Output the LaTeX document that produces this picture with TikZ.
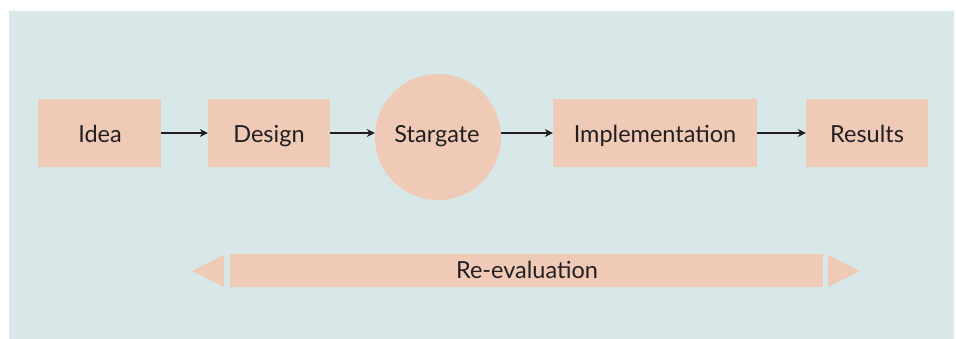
\documentclass[tikz,border=0pt]{standalone}
\usepackage{fontspec}
\setmainfont{Lato}
\usetikzlibrary{arrows.meta}
\definecolor{bgc}{HTML}{D8E7E7}
\definecolor{boxc}{HTML}{EFCBB7}
\definecolor{txtc}{HTML}{231F20}
\definecolor{arrc}{HTML}{231F20}
\tikzset{
  lbl/.style={text=txtc, font=\fontsize{23.5}{26}\selectfont},
  stagebox/.style={fill=boxc, draw=none, minimum height=68pt, inner sep=0pt, lbl},
  stagecirc/.style={circle, fill=boxc, draw=none, minimum size=126pt, inner sep=0pt, lbl},
  flow/.style={draw=arrc, line width=1.2pt, -{Stealth[length=8pt,width=8pt]}},
  tri/.style={fill=boxc, draw=none}
}
\begin{document}
\begin{tikzpicture}[x=1pt,y=-1pt]
\useasboundingbox (0,0) rectangle (956,339);
\fill[bgc] (9,11) rectangle (954,339);
\node[stagebox, minimum width=123pt] (idea) at (99.5,133) {};
\node[stagebox, minimum width=122pt] (design) at (269,133) {};
\node[stagecirc] (stargate) at (438,137) {};
\node[stagebox, minimum width=204pt] (impl) at (655,133) {};
\node[stagebox, minimum width=122pt] (results) at (867,133) {};
\node[lbl, anchor=base] (ideat) at (100,143) {Idea};
\node[lbl, anchor=base] (designt) at (269,143) {Design};
\node[lbl, anchor=base] (stargatet) at (437,143) {Stargate};
\node[lbl, anchor=base] (implt) at (655,143) {Implementation};
\node[lbl, anchor=base] (resultst) at (867,143) {Results};
\draw[flow] (idea.east) -- (design.west);
\draw[flow] (design.east) -- (design.east -| stargate.west);
\draw[flow] (stargate.east |- impl.west) -- (impl.west);
\draw[flow] (impl.east) -- (results.west);
\node[fill=boxc, minimum width=593pt, minimum height=33pt, inner sep=0pt] (reeval) at (526.5,270.5) {};
\node[lbl, anchor=base] (reevalt) at (527,279) {Re-evaluation};
\coordinate (ltip) at (192,271);
\coordinate (rtip) at (860,271);
\fill[tri] (ltip) -- (224,255) -- (224,287) -- cycle;
\fill[tri] (rtip) -- (828,255) -- (828,287) -- cycle;
\end{tikzpicture}
\end{document}
